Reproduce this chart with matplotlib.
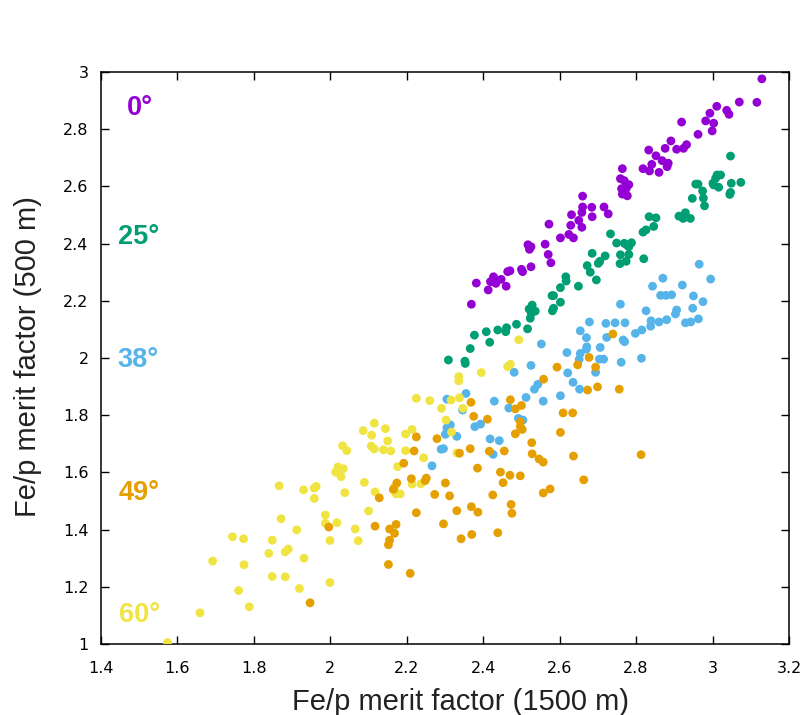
import matplotlib
matplotlib.use("Agg")
import matplotlib.pyplot as plt
from matplotlib.ticker import FormatStrFormatter, MultipleLocator

# Fe/p merit factor at 1500 m (x) vs 500 m (y), one group per zenith angle
x_0 = [3.129, 3.116, 3.070, 3.011, 3.037, 3.043, 2.993, 2.982, 3.003, 2.999,
       2.962, 2.919, 2.891, 2.932, 2.924, 2.906, 2.876, 2.833, 2.852, 2.868,
       2.884, 2.881, 2.841, 2.818, 2.835, 2.860, 2.764, 2.759, 2.769, 2.781,
       2.762, 2.774, 2.764, 2.777, 2.660, 2.660, 2.684, 2.716, 2.727, 2.658,
       2.631, 2.685, 2.650, 2.629, 2.658, 2.572, 2.602, 2.624, 2.636, 2.517,
       2.525, 2.521, 2.562, 2.570, 2.577, 2.525, 2.500, 2.464, 2.382, 2.413,
       2.427, 2.419, 2.433, 2.447, 2.460, 2.369, 2.470, 2.503]
y_0 = [2.976, 2.894, 2.895, 2.880, 2.866, 2.852, 2.856, 2.829, 2.821, 2.794,
       2.782, 2.825, 2.759, 2.746, 2.733, 2.730, 2.733, 2.727, 2.707, 2.690,
       2.681, 2.669, 2.677, 2.662, 2.654, 2.649, 2.662, 2.627, 2.620, 2.606,
       2.592, 2.592, 2.573, 2.567, 2.566, 2.528, 2.527, 2.528, 2.504, 2.509,
       2.501, 2.494, 2.481, 2.464, 2.457, 2.468, 2.420, 2.432, 2.420, 2.396,
       2.389, 2.380, 2.398, 2.362, 2.333, 2.319, 2.310, 2.302, 2.262, 2.238,
       2.284, 2.267, 2.261, 2.275, 2.251, 2.188, 2.305, 2.302]

x_25 = [3.047, 3.012, 3.021, 3.008, 3.003, 3.016, 3.001, 3.049, 3.074, 3.047,
        3.045, 2.956, 2.962, 2.974, 2.947, 2.976, 2.979, 2.912, 2.929, 2.923,
        2.942, 2.834, 2.852, 2.846, 2.826, 2.818, 2.733, 2.749, 2.769, 2.788,
        2.781, 2.776, 2.820, 2.685, 2.719, 2.705, 2.701, 2.759, 2.781, 2.758,
        2.774, 2.672, 2.680, 2.696, 2.649, 2.616, 2.617, 2.602, 2.580, 2.584,
        2.602, 2.584, 2.581, 2.528, 2.520, 2.536, 2.526, 2.523, 2.487, 2.516,
        2.461, 2.459, 2.438, 2.408, 2.377, 2.417, 2.366, 2.352, 2.353, 2.309]
y_25 = [2.706, 2.640, 2.640, 2.628, 2.605, 2.597, 2.611, 2.611, 2.614, 2.579,
        2.572, 2.608, 2.608, 2.584, 2.558, 2.559, 2.532, 2.496, 2.508, 2.488,
        2.488, 2.494, 2.490, 2.460, 2.448, 2.440, 2.434, 2.402, 2.401, 2.403,
        2.389, 2.395, 2.347, 2.366, 2.357, 2.338, 2.331, 2.361, 2.362, 2.330,
        2.338, 2.323, 2.300, 2.273, 2.251, 2.284, 2.269, 2.246, 2.218, 2.218,
        2.195, 2.174, 2.165, 2.185, 2.171, 2.164, 2.156, 2.139, 2.118, 2.102,
        2.106, 2.092, 2.098, 2.092, 2.080, 2.055, 2.033, 1.989, 1.981, 1.993]

x_38 = [2.965, 2.995, 2.870, 2.843, 2.921, 2.864, 2.878, 2.893, 2.950, 2.975,
        2.948, 2.906, 2.903, 2.759, 2.826, 2.963, 2.929, 2.943, 2.880, 2.860,
        2.839, 2.838, 2.815, 2.798, 2.678, 2.721, 2.745, 2.771, 2.654, 2.670,
        2.723, 2.766, 2.770, 2.706, 2.671, 2.670, 2.654, 2.651, 2.619, 2.552,
        2.704, 2.715, 2.814, 2.761, 2.525, 2.481, 2.621, 2.694, 2.635, 2.543,
        2.534, 2.652, 2.602, 2.512, 2.355, 2.305, 2.429, 2.557, 2.346, 2.467,
        2.492, 2.504, 2.393, 2.378, 2.314, 2.305, 2.301, 2.331, 2.418, 2.442,
        2.290, 2.296, 2.426, 2.266]
y_38 = [2.328, 2.276, 2.279, 2.251, 2.255, 2.219, 2.219, 2.221, 2.217, 2.197,
        2.174, 2.168, 2.154, 2.188, 2.165, 2.137, 2.123, 2.126, 2.134, 2.126,
        2.130, 2.111, 2.098, 2.086, 2.126, 2.121, 2.123, 2.123, 2.095, 2.071,
        2.072, 2.063, 2.057, 2.037, 2.039, 2.031, 2.016, 1.995, 2.019, 2.049,
        1.996, 1.996, 1.999, 1.985, 1.974, 1.950, 1.948, 1.950, 1.915, 1.908,
        1.891, 1.891, 1.868, 1.862, 1.876, 1.856, 1.849, 1.849, 1.818, 1.825,
        1.789, 1.783, 1.769, 1.760, 1.766, 1.756, 1.733, 1.726, 1.717, 1.711,
        1.681, 1.683, 1.663, 1.623]

x_49 = [2.739, 2.677, 2.647, 2.694, 2.593, 2.558, 2.673, 2.699, 2.756, 2.471,
        2.484, 2.500, 2.609, 2.634, 2.497, 2.497, 2.502, 2.484, 2.602, 2.527,
        2.455, 2.528, 2.546, 2.557, 2.636, 2.813, 2.445, 2.470, 2.497, 2.452,
        2.663, 2.575, 2.557, 2.473, 2.475, 2.368, 2.375, 2.411, 2.225, 2.279,
        2.219, 2.366, 2.416, 2.338, 2.192, 2.385, 2.212, 2.251, 2.248, 2.301,
        2.174, 2.165, 2.273, 2.312, 2.425, 2.128, 2.369, 2.386, 2.331, 2.225,
        2.117, 2.172, 2.155, 2.296, 1.996, 2.168, 2.155, 2.152, 2.152, 2.209,
        1.947, 2.342, 2.370, 2.438]
y_49 = [2.084, 2.002, 1.976, 1.968, 1.968, 1.926, 1.888, 1.899, 1.891, 1.854,
        1.822, 1.834, 1.808, 1.808, 1.777, 1.760, 1.750, 1.735, 1.740, 1.704,
        1.675, 1.665, 1.647, 1.636, 1.657, 1.662, 1.601, 1.590, 1.588, 1.564,
        1.574, 1.542, 1.528, 1.488, 1.457, 1.845, 1.796, 1.786, 1.724, 1.718,
        1.675, 1.683, 1.674, 1.667, 1.632, 1.615, 1.578, 1.580, 1.571, 1.563,
        1.563, 1.541, 1.523, 1.518, 1.521, 1.511, 1.480, 1.461, 1.466, 1.459,
        1.412, 1.418, 1.402, 1.420, 1.409, 1.387, 1.363, 1.347, 1.278, 1.247,
        1.144, 1.368, 1.383, 1.389]

x_60 = [2.493, 2.471, 2.464, 2.395, 2.336, 2.336, 2.225, 2.260, 2.291, 2.316,
        2.338, 2.347, 2.303, 2.317, 2.115, 2.086, 2.108, 2.144, 2.150, 2.214,
        2.197, 2.032, 2.043, 2.107, 2.115, 2.139, 2.158, 2.197, 2.244, 2.331,
        2.176, 2.020, 2.034, 2.014, 2.028, 2.089, 2.168, 2.165, 2.172, 2.183,
        2.214, 2.237, 2.117, 2.038, 1.963, 1.958, 1.930, 1.958, 2.100, 1.987,
        1.987, 2.017, 2.065, 1.866, 1.871, 1.912, 2.073, 1.999, 1.744, 1.773,
        1.848, 1.839, 1.882, 1.890, 1.931, 1.692, 1.774, 1.848, 1.882, 1.999,
        1.919, 1.760, 1.788, 1.659, 1.574]
y_60 = [2.064, 1.978, 1.970, 1.949, 1.935, 1.920, 1.859, 1.851, 1.824, 1.853,
        1.861, 1.824, 1.783, 1.741, 1.772, 1.746, 1.730, 1.753, 1.710, 1.750,
        1.734, 1.693, 1.676, 1.692, 1.682, 1.679, 1.675, 1.676, 1.651, 1.668,
        1.620, 1.619, 1.613, 1.601, 1.585, 1.565, 1.549, 1.538, 1.525, 1.525,
        1.559, 1.560, 1.532, 1.529, 1.551, 1.545, 1.539, 1.509, 1.465, 1.451,
        1.422, 1.424, 1.402, 1.553, 1.438, 1.399, 1.361, 1.362, 1.375, 1.368,
        1.363, 1.317, 1.322, 1.332, 1.300, 1.290, 1.277, 1.236, 1.235, 1.215,
        1.194, 1.187, 1.130, 1.109, 1.005]

# draw order: 0, 25, 38, 60, 49
groups = [
    ("0°", x_0, y_0, "#9400D3", (0.038, 0.925)),
    ("25°", x_25, y_25, "#009E73", (0.024, 0.699)),
    ("38°", x_38, y_38, "#56B4E9", (0.024, 0.485)),
    ("60°", x_60, y_60, "#F0E442", (0.026, 0.039)),
    ("49°", x_49, y_49, "#E69F00", (0.025, 0.251)),
]

fig = plt.figure(figsize=(8.05, 7.15), dpi=100)
ax = fig.add_axes([101 / 805, 71 / 715, 688 / 805, 572 / 715])

for label, xs, ys, color, pos in groups:
    ax.scatter(xs, ys, s=40, color=color, edgecolors="none", zorder=3)
    ax.text(pos[0], pos[1], label, transform=ax.transAxes, color=color,
            fontsize=19.5, fontweight="bold", family="Liberation Sans",
            ha="left", va="baseline")

ax.set_xlim(1.4, 3.2)
ax.set_ylim(1.0, 3.0)
ax.xaxis.set_major_locator(MultipleLocator(0.2))
ax.yaxis.set_major_locator(MultipleLocator(0.2))
ax.xaxis.set_major_formatter(FormatStrFormatter("%g"))
ax.yaxis.set_major_formatter(FormatStrFormatter("%g"))
ax.tick_params(direction="in", top=True, right=True, length=5.5, width=1.0,
               labelsize=11.5, colors="black")
ax.tick_params(axis="x", pad=12)
ax.tick_params(axis="y", pad=9)
for spine in ax.spines.values():
    spine.set_linewidth(1.1)

fig.text(460 / 805, 5 / 715, "Fe/p merit factor (1500 m)", ha="center",
         va="baseline", fontsize=21, family="Liberation Sans", color="#222222")
fig.text(28 / 805, 0.502, "Fe/p merit factor (500 m)", rotation=90,
         ha="center", va="center", fontsize=21, family="Liberation Sans",
         color="#222222")

fig.savefig("out.png", dpi=100)
